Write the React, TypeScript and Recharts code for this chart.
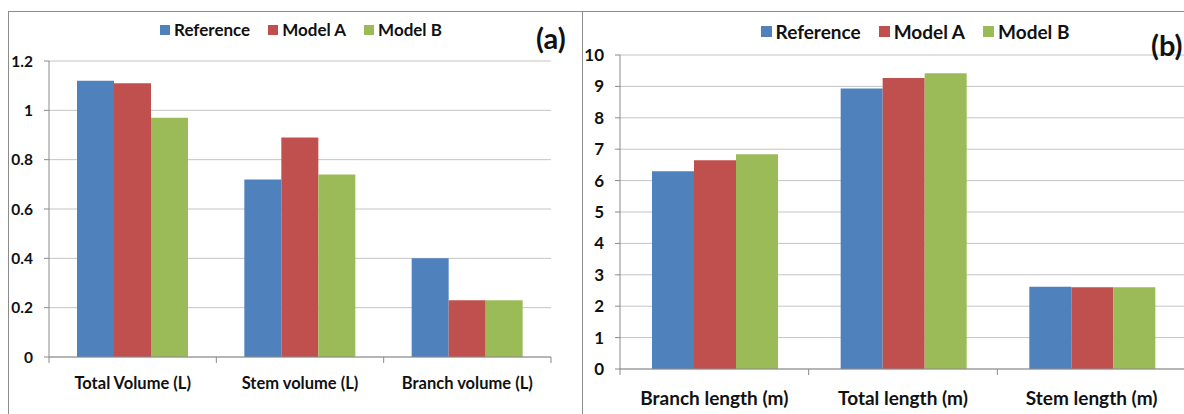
import { Bar, BarChart, CartesianGrid, Legend, XAxis, YAxis } from "recharts";

const seriesNames = ["Reference", "Model A", "Model B"];
const seriesColors = ["#4F81BD", "#C0504D", "#9BBB59"];

const volumeCategories = ["Total Volume (L)", "Stem volume (L)", "Branch volume (L)"];
const volumeReference = [1.12, 0.72, 0.4];
const volumeModelA = [1.11, 0.89, 0.23];
const volumeModelB = [0.97, 0.74, 0.23];
const volumeTicks = [0, 0.2, 0.4, 0.6, 0.8, 1, 1.2];

const lengthCategories = ["Branch length (m)", "Total length (m)", "Stem length (m)"];
const lengthReference = [6.3, 8.93, 2.62];
const lengthModelA = [6.65, 9.27, 2.6];
const lengthModelB = [6.84, 9.42, 2.6];
const lengthTicks = [0, 1, 2, 3, 4, 5, 6, 7, 8, 9, 10];

const FONT = "Lato, 'Open Sans', sans-serif";
const AXIS = "#8a8a8a";
const GRID = "#c4c4c4";

const volumeData = volumeCategories.map((name, i) => ({
  name,
  s0: volumeReference[i],
  s1: volumeModelA[i],
  s2: volumeModelB[i],
}));

const lengthData = lengthCategories.map((name, i) => ({
  name,
  s0: lengthReference[i],
  s1: lengthModelA[i],
  s2: lengthModelB[i],
}));

function makeXTick(fontSize: number, labelDy: number, total: number) {
  return (props: any) => {
    const { x, y, payload, index } = props;
    const off = payload.offset || 0;
    return (
      <g>
        <line x1={x - off} y1={y} x2={x - off} y2={y + 6} stroke={AXIS} />
        {index === total - 1 && <line x1={x + off} y1={y} x2={x + off} y2={y + 6} stroke={AXIS} />}
        <text
          x={x}
          y={y + labelDy}
          textAnchor="middle"
          dominantBaseline="central"
          fontFamily={FONT}
          fontWeight={700}
          fontSize={fontSize}
          fill="#111"
        >
          {payload.value}
        </text>
      </g>
    );
  };
}

function makeLegend(fontSize: number, box: number, gap: number) {
  return (props: any) => {
    const items = [...props.payload].sort(
      (a: any, b: any) => seriesNames.indexOf(a.value) - seriesNames.indexOf(b.value)
    );
    return (
      <div style={{ display: "flex", justifyContent: "center", gap, fontFamily: FONT, fontWeight: 700, fontSize, color: "#111" }}>
        {items.map((p: any) => (
          <span key={p.value} style={{ display: "flex", alignItems: "center", gap: 4 }}>
            <span style={{ width: box, height: box, background: p.color, display: "inline-block" }} />
            {p.value}
          </span>
        ))}
      </div>
    );
  };
}

function Panel({
  data,
  ticks,
  width,
  margin,
  yWidth,
  xHeight,
  tickFont,
  catFont,
  labelDy,
  tickMargin,
  catGap,
  legendStyle,
  legendFont,
  legendBox,
}: any) {
  return (
    <BarChart width={width} height={414} data={data} margin={margin} barGap={0} barCategoryGap={catGap}>
      <CartesianGrid vertical={false} stroke={GRID} />
      <XAxis
        dataKey="name"
        height={xHeight}
        axisLine={{ stroke: AXIS }}
        tickLine={false}
        tickSize={0}
        tickMargin={0}
        interval={0}
        tick={makeXTick(catFont, labelDy, data.length)}
      />
      <YAxis
        width={yWidth}
        domain={[ticks[0], ticks[ticks.length - 1]]}
        ticks={ticks}
        interval={0}
        axisLine={{ stroke: AXIS }}
        tickLine={{ stroke: AXIS }}
        tickSize={5}
        tickMargin={tickMargin}
        tick={{ fontFamily: FONT, fontWeight: 700, fontSize: tickFont, fill: "#111" }}
      />
      <Legend
        verticalAlign="middle"
        align="center"
        wrapperStyle={legendStyle}
        content={makeLegend(legendFont, legendBox, 18)}
      />
      {seriesNames.map((n, i) => (
        <Bar key={n} dataKey={`s${i}`} name={n} fill={seriesColors[i]} isAnimationActive={false} />
      ))}
    </BarChart>
  );
}

export default function App() {
  return (
    <div style={{ position: "fixed", left: 0, top: 0, width: 1184, height: 414, overflow: "hidden", background: "#fff" }}>
      <div style={{ position: "absolute", left: 8, top: 11, width: 574, height: 420, borderLeft: "1px solid #8c8c8c", borderTop: "1px solid #8c8c8c" }} />
      <div style={{ position: "absolute", left: 582, top: 11, width: 620, height: 420, borderLeft: "1px solid #8c8c8c", borderTop: "1px solid #8c8c8c" }} />
      <div style={{ position: "absolute", left: 0, top: 0 }}>
        <Panel
          data={volumeData}
          ticks={volumeTicks}
          width={582}
          margin={{ top: 61, right: 31, left: 4, bottom: 17 }}
          yWidth={45}
          xHeight={40}
          tickFont={15.5}
          catFont={16.5}
          labelDy={26}
          tickMargin={11}
          catGap={28}
          legendStyle={{ top: 19, left: 51, width: 500 }}
          legendFont={17}
          legendBox={10}
        />
      </div>
      <div style={{ position: "absolute", left: 582, top: 0 }}>
        <Panel
          data={lengthData}
          ticks={lengthTicks}
          width={604}
          margin={{ top: 55, right: 0, left: 3, bottom: 10 }}
          yWidth={35}
          xHeight={35}
          tickFont={17}
          catFont={19}
          labelDy={28}
          tickMargin={11}
          catGap={32}
          legendStyle={{ top: 20, left: 83, width: 500 }}
          legendFont={19}
          legendBox={11}
        />
      </div>
      <div style={{ position: "absolute", left: 536, top: 20, fontFamily: FONT, fontWeight: 700, fontSize: 29, color: "#111" }}>(a)</div>
      <div style={{ position: "absolute", left: 1151, top: 27, fontFamily: FONT, fontWeight: 700, fontSize: 29, color: "#111" }}>(b)</div>
    </div>
  );
}
